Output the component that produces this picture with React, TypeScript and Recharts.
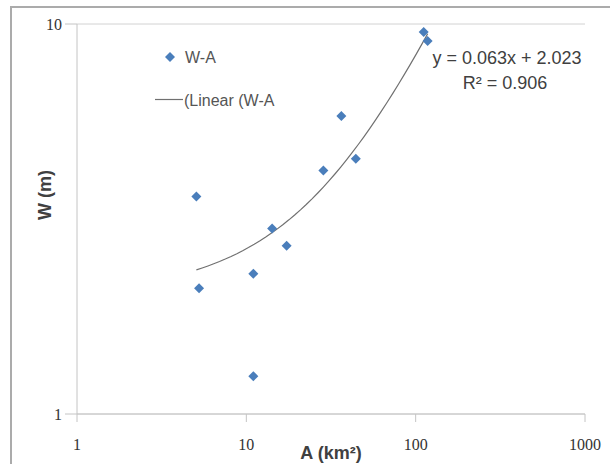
import { CartesianGrid, Scatter, ScatterChart, XAxis, YAxis } from 'recharts'

// catchment area (km²) and channel width (m), one entry per site
const AREA = [111.5, 117.7, 36.4, 44.3, 28.5, 5.07, 14.2, 17.3, 11.0, 5.26, 11.0]
const WIDTH = [9.54, 9.04, 5.81, 4.51, 4.21, 3.61, 2.99, 2.7, 2.29, 2.1, 1.25]

// fitted linear trend W = SLOPE * A + INTERCEPT
const SLOPE = 0.063
const INTERCEPT = 2.023
const R2 = 0.906

const X_TICKS = [1, 10, 100, 1000]
const Y_TICKS = [1, 10]

const BLUE = '#4a7ebb'
const AXIS = '#c4c4c4'
const TEXT = '#404040'
const TREND = '#707070'
const SANS = 'Liberation Sans, Arial, sans-serif'

const points = AREA.map((a, i) => ({ a, w: WIDTH[i] }))

// trend line sampled along the fitted equation over the data range
const aMin = Math.min(...AREA)
const aMax = Math.max(...AREA)
const trend = Array.from({ length: 41 }, (_, i) => {
  const a = aMin * Math.pow(aMax / aMin, i / 40)
  return { a, w: SLOPE * a + INTERCEPT }
})

function Diamond(props: any) {
  const { cx, cy } = props
  const r = 5
  return (
    <polygon
      points={`${cx},${cy - r} ${cx + r},${cy} ${cx},${cy + r} ${cx - r},${cy}`}
      fill={BLUE}
    />
  )
}

const tickStyle = { fill: '#333', fontSize: 16, fontFamily: 'Liberation Serif, Times New Roman, serif' }

export default function App() {
  return (
    <div
      style={{
        position: 'absolute',
        left: 0,
        top: 0,
        width: 610,
        height: 464,
        overflow: 'hidden',
        background: '#fff',
      }}
    >
      <div
        style={{
          position: 'absolute',
          left: 10,
          top: 6,
          width: 640,
          height: 500,
          border: '2px solid #ababab',
        }}
      />
      <ScatterChart
        width={610}
        height={464}
        margin={{ top: 24, right: 25, bottom: 0, left: 17 }}
        style={{ position: 'absolute', left: 0, top: 0 }}
      >
        <CartesianGrid vertical={false} stroke="#d2d2d2" />
        <XAxis
          dataKey="a"
          type="number"
          scale="log"
          domain={[1, 1000]}
          ticks={X_TICKS}
          allowDataOverflow
          height={50}
          stroke={AXIS}
          tickSize={8}
          tickMargin={17}
          tick={tickStyle}
        />
        <YAxis
          dataKey="w"
          type="number"
          scale="log"
          domain={[1, 10]}
          ticks={Y_TICKS}
          allowDataOverflow
          width={60}
          stroke={AXIS}
          tickSize={12}
          tickMargin={3}
          tick={tickStyle}
        />
        <Scatter
          data={trend}
          line={{ stroke: TREND, strokeWidth: 1.2 }}
          shape={() => <g />}
          isAnimationActive={false}
        />
        <Scatter data={points} shape={Diamond} isAnimationActive={false} />
      </ScatterChart>
      <svg
        width={610}
        height={464}
        style={{ position: 'absolute', left: 0, top: 0, pointerEvents: 'none' }}
      >
        {/* legend */}
        <polygon points="170,52 175,57 170,62 165,57" fill={BLUE} />
        <text x={185} y={63} fontSize={16} fill="#555" fontFamily={SANS}>
          W-A
        </text>
        <line x1={155} x2={183} y1={99.5} y2={99.5} stroke={TREND} strokeWidth={1.2} />
        <text x={184} y={106} fontSize={16} fill="#555" fontFamily={SANS}>
          (Linear (W-A
        </text>
        <g fontFamily={SANS} fill={TEXT}>
          <text x={507} y={64} fontSize={18} textAnchor="middle">
            {`y = ${SLOPE}x + ${INTERCEPT}`}
          </text>
          <text x={505} y={89} fontSize={18} textAnchor="middle">
            {`R² = ${R2}`}
          </text>
          <text x={331} y={459} fontSize={18} fontWeight="bold" textAnchor="middle">
            A (km²)
          </text>
          <text
            x={51}
            y={195}
            fontSize={18}
            fontWeight="bold"
            textAnchor="middle"
            transform="rotate(-90 51 195)"
          >
            W (m)
          </text>
        </g>
      </svg>
    </div>
  )
}
